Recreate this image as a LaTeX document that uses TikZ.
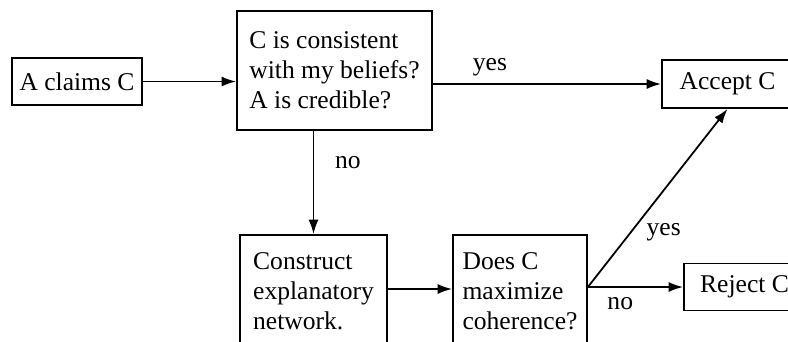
\documentclass[tikz,border=0pt]{standalone}
\usepackage{fontspec}
\setmainfont{Liberation Serif}
\usetikzlibrary{arrows.meta}
\begin{document}
\begin{tikzpicture}[x=0.45pt, y=-0.45pt, >={Latex[length=6.5pt, width=4.5pt]},
    font=\fontsize{11.5}{13.5}\selectfont,
    box/.style={draw, thick, rectangle, align=left, inner sep=0pt},
    link/.style={thick, ->}]
                \clip (0,0) rectangle (788,341);
                \node at (77,81.5) [box, minimum width=58.5pt, minimum height=21.15pt] (claim) {A claims C};
                \node at (334.5,70.5) [box, minimum width=87.75pt, minimum height=53.55pt] (consist) {C is consistent\\with my beliefs?\\A is credible?};
                \node at (727.5,84) [box, minimum width=58.95pt, minimum height=21.6pt] (accept) {Accept C};
                \node at (313.5,291) [box, minimum width=66.15pt, minimum height=50.4pt] (construct) {Construct\\explanatory\\network.};
                \node at (520,291) [box, minimum width=60.3pt, minimum height=50.4pt] (maxim) {Does C\\maximize\\coherence?};
                \node at (744.5,287) [box, minimum width=54.45pt, minimum height=21.15pt] (reject) {Reject C};
                \coordinate (fork) at (maxim.east |- reject.west);
                \draw[link] (claim) -- (claim -| consist.west);
                \draw[link] (consist.east |- accept.west) -- (accept.west) node[pos=0.25, above] {yes};
                \draw[link] (construct.north |- consist.south) -- (construct.north) node[pos=0.31, right, xshift=6pt] {no};
                \draw[link] (construct.east |- 0,289) -- (maxim.west |- 0,289);
                \draw[link] (fork) -- (accept.south) node[pos=0.33, right, xshift=2pt, yshift=-2pt] {yes};
                \draw[link] (fork) -- (reject.west) node[pos=0.34, below, yshift=-1pt] {no};
            \end{tikzpicture}
\end{document}
